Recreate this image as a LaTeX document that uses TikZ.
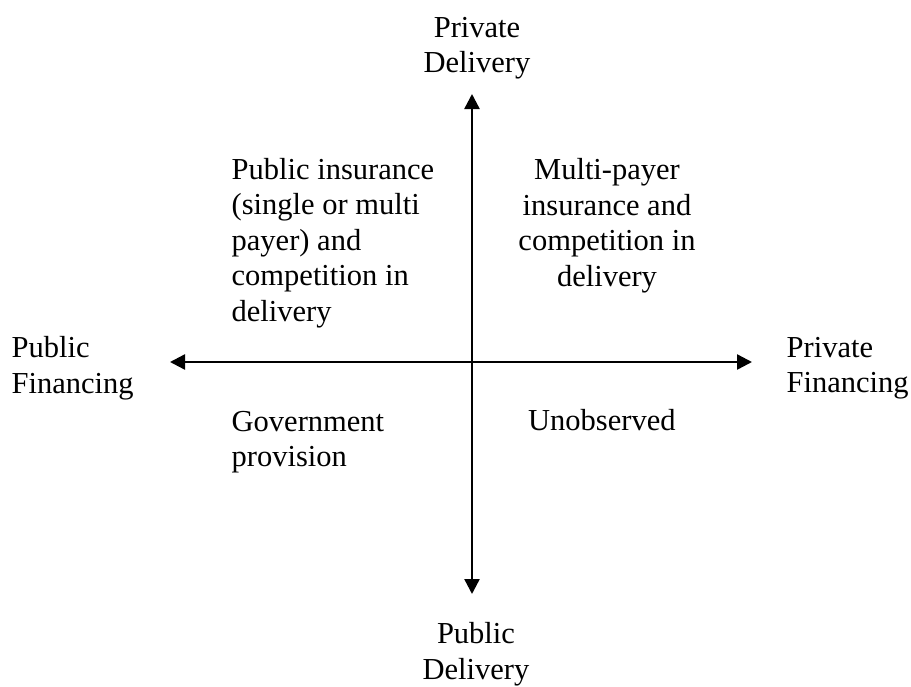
\documentclass[tikz,border=0pt]{standalone}
\usepackage{fontspec}
\setmainfont{Liberation Serif}
\usetikzlibrary{arrows.meta}

\begin{document}
\begin{tikzpicture}[
    x=1pt, y=-1pt,
    axis/.style={line width=2.4pt, {Triangle[length=15pt,width=15pt]}-{Triangle[length=15pt,width=15pt]}},
    lbl/.style={inner sep=0pt, font=\fontsize{30.5}{35.5}\selectfont},
  ]
  \useasboundingbox (0,0) rectangle (911,686);

  % axis end points
  \coordinate (top) at (472,94);
  \coordinate (bottom) at (472,594);
  \coordinate (left) at (170,362);
  \coordinate (right) at (752,362);

  % axes
  \draw[axis] (bottom) -- (top);
  \draw[axis] (left) -- (right);

  % axis labels (base anchor sits on the last line)
  \node[lbl, align=center, anchor=base] (privdel) at (477,72.7) {Private\\Delivery};
  \node[lbl, align=center, anchor=base] (pubdel) at (476,679) {Public\\Delivery};
  \node[lbl, align=left, anchor=base west] (pubfin) at (11.5,393) {Public\\Financing};
  \node[lbl, align=left, anchor=base west] (privfin) at (786.5,392.5) {Private\\Financing};

  % quadrant texts
  \node[lbl, align=left, anchor=base west] (q2) at (231.5,321)
    {Public insurance\\(single or multi\\payer) and\\competition in\\delivery};
  \node[lbl, align=center, anchor=base] (q1) at (607,286)
    {Multi-payer\\insurance and\\competition in\\delivery};
  \node[lbl, align=left, anchor=base west] (q3) at (231.5,466.5)
    {Government\\provision};
  \node[lbl, anchor=base west] (q4) at (528,430) {Unobserved};
\end{tikzpicture}
\end{document}
